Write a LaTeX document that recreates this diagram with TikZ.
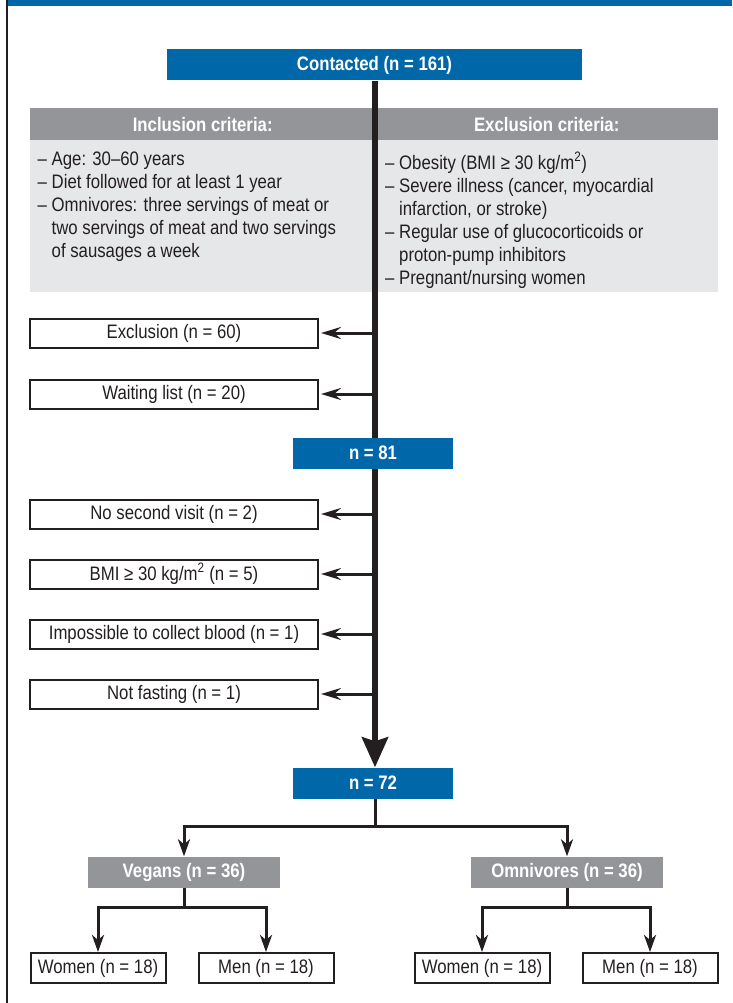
\documentclass[tikz,border=0pt]{standalone}
\usepackage{fontspec}
\setmainfont{Liberation Sans}[FakeStretch=0.86]
\usetikzlibrary{arrows.meta,positioning}
\definecolor{flowblue}{RGB}{0,103,169}
\definecolor{hdgray}{RGB}{147,149,152}
\definecolor{bodygray}{RGB}{230,231,232}
\definecolor{ink}{RGB}{35,31,32}
\newcommand{\boxfont}{\fontsize{19.5}{23}\selectfont}

\begin{document}
\begin{tikzpicture}[x=1pt,y=-1pt,font=\boxfont]
    \tikzstyle{bluebox} = [fill=flowblue, text=white, font=\boxfont\bfseries, minimum height=31pt, inner sep=0pt]
    \tikzstyle{headbox} = [fill=hdgray, text=white, font=\boxfont\bfseries, minimum height=32pt, inner sep=0pt, anchor=north west]
    \tikzstyle{bodybox} = [fill=bodygray, text=ink, inner xsep=6pt, inner ysep=12pt, anchor=north west]
    \tikzstyle{outbox} = [draw=ink, line width=2pt, fill=white, text=ink, minimum width=288pt, minimum height=29pt, inner sep=0pt]
    \tikzstyle{grpbox} = [fill=hdgray, text=white, font=\boxfont\bfseries, minimum width=192pt, minimum height=31pt, inner sep=0pt]
    \tikzstyle{leafbox} = [draw=ink, line width=2pt, text=ink, minimum width=135pt, minimum height=30pt, inner sep=0pt]
    \tikzstyle{sidearrow} = [draw=ink, line width=3pt, shorten >=2pt, -{Stealth[length=20pt,width=12pt,inset=7pt]}]
    \tikzstyle{brancharrow} = [draw=ink, line width=3pt, -{Stealth[length=17pt,width=12pt,inset=5pt]}]
    \useasboundingbox (0,0) rectangle (732,1003);
    % frame
    \fill[flowblue] (6,0) rectangle (732,6);
    \draw[ink, line width=2pt] (7,0) -- (7,1003);
    % top
    \node[bluebox, minimum width=415pt] (contacted) at (374.5,65) {Contacted (n = 161)};
    \node[headbox, minimum width=345pt] (inchead) at (30,108) {Inclusion criteria:};
    \node[headbox, minimum width=343pt] (exchead) at (375,108) {Exclusion criteria:};
    \node[bodybox, minimum width=345pt] (incbody) at (30,140) {\parbox[t][128pt][t]{330pt}{%
      – Age: 30–60 years\\
      – Diet followed for at least 1 year\\
      – Omnivores: three servings of meat or\\
      \hphantom{– }two servings of meat and two servings\\
      \hphantom{– }of sausages a week}};
    \node[bodybox, minimum width=341pt] (excbody) at (377,140) {\parbox[t][128pt][t]{325pt}{%
      – Obesity (BMI ≥ 30 kg/m\textsuperscript{2})\\
      – Severe illness (cancer, myocardial\\
      \hphantom{– }infarction, or stroke)\\
      – Regular use of glucocorticoids or\\
      \hphantom{– }proton-pump inhibitors\\
      – Pregnant/nursing women}};
    % excluded along the way
    \node[outbox] (excl) at (174,333) {Exclusion (n = 60)};
    \node[outbox] (wait) at (174,394) {Waiting list (n = 20)};
    \node[outbox] (novisit) at (174,514) {No second visit (n = 2)};
    \node[outbox] (bmi) at (174,574) {BMI ≥ 30 kg/m\textsuperscript{2} (n = 5)};
    \node[outbox] (blood) at (174,634) {Impossible to collect blood (n = 1)};
    \node[outbox] (fast) at (174,694) {Not fasting (n = 1)};
    \node[bluebox, minimum width=160pt] (n72) at (373,783) {n = 72};
    % spine
    \draw[ink, line width=6pt, -{Stealth[length=30pt,width=26pt,inset=4pt]}] (contacted.south -| 375,0) -- (n72.north -| 375,0);
    \node[bluebox, minimum width=160pt] (n81) at (373,453) {n = 81};
    \foreach \b in {excl,wait,novisit,bmi,blood,fast}
      \draw[sidearrow] (\b.east -| contacted.south) -- (\b.east);
    % groups
    \node[grpbox] (vegans) at (184,872) {Vegans (n = 36)};
    \node[grpbox] (omni) at (567,872) {Omnivores (n = 36)};
    \node[leafbox] (vwomen) at (98,968) {Women (n = 18)};
    \node[leafbox] (vmen) at (266,968) {Men (n = 18)};
    \node[leafbox] (owomen) at (482,968) {Women (n = 18)};
    \node[leafbox] (omen) at (650,968) {Men (n = 18)};
    \draw[brancharrow] (n72.south -| 375,0) -- ++(0,28) -| (vegans.north);
    \draw[brancharrow] (n72.south -| 375,0) -- ++(0,28) -| (omni.north);
    \draw[brancharrow] (vegans.south) -- ++(0,20) -| (vwomen.north);
    \draw[brancharrow] (vegans.south) -- ++(0,20) -| (vmen.north);
    \draw[brancharrow] (omni.south) -- ++(0,20) -| (owomen.north);
    \draw[brancharrow] (omni.south) -- ++(0,20) -| (omen.north);
  \end{tikzpicture}
\end{document}
